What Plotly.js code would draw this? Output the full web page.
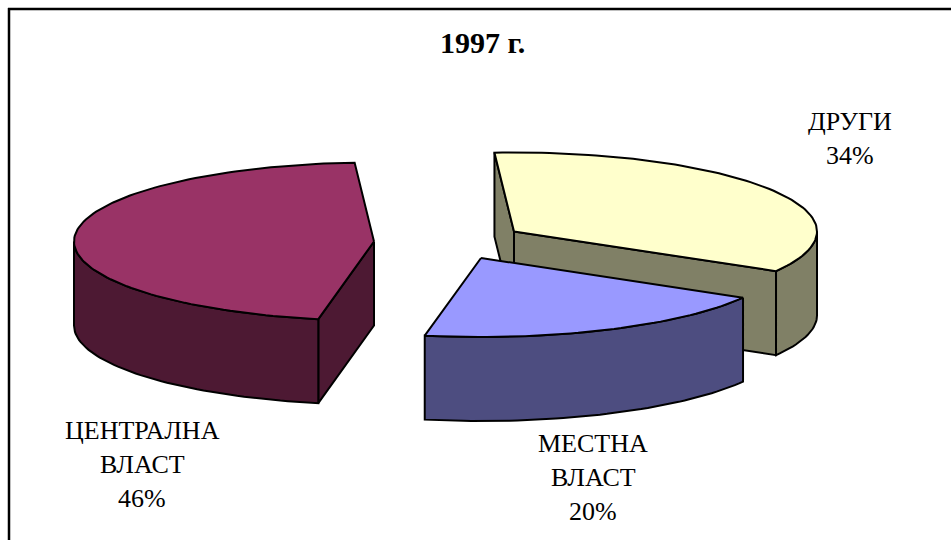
<!DOCTYPE html>
<html><head><meta charset="utf-8">
<script src="https://cdn.plot.ly/plotly-3.0.1.min.js"></script>
<style>html,body{margin:0;padding:0;background:#fff}#c{width:951px;height:540px}</style>
</head><body><div id="c"></div>
<script>
// Data (clockwise from the top, in drawing order of the pie)
const categories = ['ДРУГИ', 'МЕСТНА ВЛАСТ', 'ЦЕНТРАЛНА ВЛАСТ'];
const shares = [34.4, 19.6, 46.0];
const chartTitle = '1997 г.';

// Appearance
const topColors = ['#ffffcc', '#9999ff', '#993366'];
const wallColors = ['#808066', '#4d4d80', '#4d1933'];
const apexes = [[514, 231.5], [481, 258], [374, 241.5]];   // exploded slice apex, in pixels
const radiiX = [303, 303, 300];
const labelCentres = [[850, 121.5], [593, 443], [142, 430]];
const labelStep = 34;
const RY = 79, DEPTH = 84, START = -3.7;
const paintOrder = [2, 0, 1];

const rad = d => d * Math.PI / 180;
function rim(c, rx, deg) { return [c[0] + rx * Math.sin(rad(deg)), c[1] - RY * Math.cos(rad(deg))]; }
function arc(c, rx, a, b) {
  const n = Math.max(2, Math.ceil(Math.abs(b - a) / 1.5)), pts = [];
  for (let i = 0; i <= n; i++) pts.push(rim(c, rx, a + (b - a) * i / n));
  return pts;
}
function poly(pts, color) {
  const closed = pts.concat([pts[0]]);
  return { type: 'scatter', mode: 'lines', x: closed.map(p => p[0]), y: closed.map(p => p[1]),
    fill: 'toself', fillcolor: color, line: { color: '#000', width: 2, shape: 'linear' },
    hoverinfo: 'skip', showlegend: false };
}
const down = p => [p[0], p[1] + DEPTH];
const total = shares.reduce((s, v) => s + v, 0);
const ranges = []; let acc = START;
shares.forEach(v => { const e = acc + v / total * 360; ranges.push([acc, e]); acc = e; });

const traces = [];
paintOrder.forEach(i => {
  const [a, b] = ranges[i], c = apexes[i], rx = radiiX[i], wall = wallColors[i];
  const cut = deg => { const p = rim(c, rx, deg); return poly([c, p, down(p), down(c)], wall); };
  if (Math.cos(rad(a - 90)) < 0) traces.push(cut(a));
  if (Math.cos(rad(b + 90)) < 0) traces.push(cut(b));
  const f0 = Math.max(a, 90), f1 = Math.min(b, 270);
  if (f1 > f0) { const pts = arc(c, rx, f0, f1); traces.push(poly(pts.concat(pts.slice().reverse().map(down)), wall)); }
  traces.push(poly([c].concat(arc(c, rx, a, b)), topColors[i]));
});

const font = { family: '"Liberation Serif", serif', size: 26, color: '#000' };
const annotations = [{ x: 482.5, y: 42, xref: 'x', yref: 'y', text: '<b>' + chartTitle + '</b>', showarrow: false,
  font: { family: font.family, size: 30, color: '#000' } }];
categories.forEach((cat, i) => {
  const lines = cat.split(' ').concat([Math.round(shares[i]) + '%']);
  lines.forEach((t, j) => annotations.push({ x: labelCentres[i][0], y: labelCentres[i][1] + j * labelStep,
    xref: 'x', yref: 'y', text: t, showarrow: false, font: font }));
});

const frame = [
  { type: 'line', xref: 'paper', yref: 'paper', x0: 9 / 951, x1: 9 / 951, y0: 0, y1: 1 - 8 / 540, line: { color: '#000', width: 2.5 } },
  { type: 'line', xref: 'paper', yref: 'paper', x0: 8 / 951, x1: 1, y0: 1 - 9 / 540, y1: 1 - 9 / 540, line: { color: '#000', width: 2.5 } }
];

Plotly.newPlot('c', traces, {
  width: 951, height: 540, margin: { l: 0, r: 0, t: 0, b: 0 },
  paper_bgcolor: '#fff', plot_bgcolor: '#fff', showlegend: false,
  xaxis: { range: [0, 951], visible: false, fixedrange: true },
  yaxis: { range: [540, 0], visible: false, fixedrange: true },
  annotations: annotations, shapes: frame
}, { displayModeBar: false, staticPlot: true });
</script></body></html>
